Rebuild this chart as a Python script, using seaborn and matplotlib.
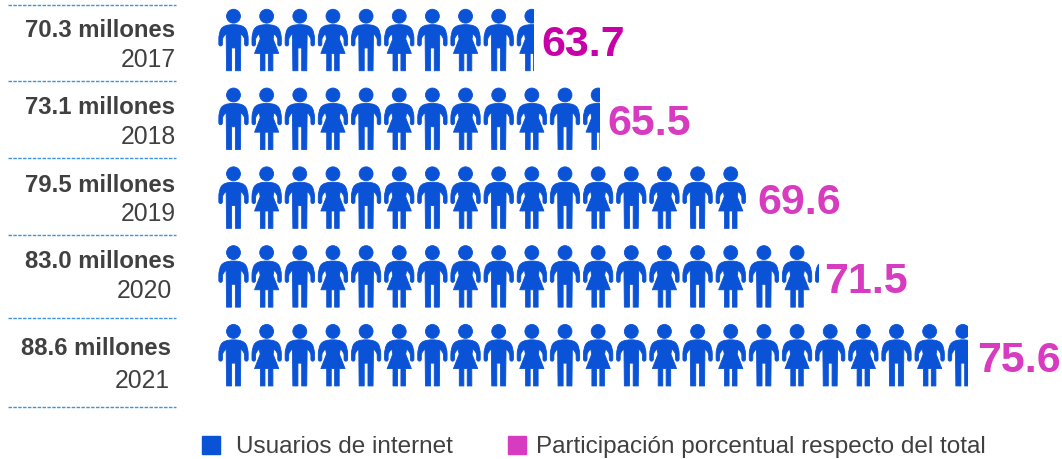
import numpy as np
import pandas as pd
import seaborn as sns
import matplotlib.pyplot as plt
from matplotlib.path import Path
from matplotlib.patches import Rectangle
from matplotlib.lines import Line2D

# datos
anios = ['2017', '2018', '2019', '2020', '2021']
usuarios = ['70.3 millones', '73.1 millones', '79.5 millones', '83.0 millones', '88.6 millones']
participacion = ['63.7', '65.5', '69.6', '71.5', '75.6']
iconos = [9.55, 11.55, 16, 18.15, 22.66]  # cuantas figuras se ven por fila

AZUL = '#0a52d6'
MAGENTA = '#d63bc0'
GRIS = '#404040'
ANCHO, ALTO = 1062, 460
PASO_X, PASO_Y = 33.15, 78.8
X0, Y0 = 233.5, 41


def silueta(lado):
    # lado derecho de la figura, se refleja para cerrar. x desde el centro, y desde arriba
    pts = [p for p, c in lado]
    cods = [c for p, c in lado]
    izq = [(-x, y) for x, y in reversed(pts)]
    cods_izq = [Path.LINETO] + list(reversed(cods[1:]))
    verts = pts + izq + [pts[0]]
    codes = [Path.MOVETO] + cods[1:] + cods_izq + [Path.CLOSEPOLY]
    verts = [(x, 31 - y) for x, y in verts]
    return Path(verts, codes)


L, C = Path.LINETO, Path.CURVE3
hombro = [((0, 15.5), Path.MOVETO), ((10, 15.5), C), ((12.5, 20), C), ((14.8, 24), C), ((14.8, 30), C),
          ((14.8, 35), L), ((14.8, 37), C), ((13, 37), C), ((11.2, 37), C), ((11.2, 35), C),
          ((11.2, 31), L), ((11, 27), C), ((7.4, 25), C)]
cuerpo_h = hombro + [((7, 62), L), ((1.9, 62), L), ((1.9, 39), L), ((0, 39), L)]
cuerpo_m = hombro + [((6.5, 30), L), ((12.2, 44.5), L), ((6.3, 44.5), L), ((6.3, 62), L),
                     ((1.7, 62), L), ((1.7, 44.5), L), ((0, 44.5), L)]


def figura(cuerpo):
    cabeza = Path.circle((0, 31 - 7), 7)
    return Path.make_compound_path(cabeza, silueta(cuerpo))


marcadores = {'hombre': figura(cuerpo_h), 'mujer': figura(cuerpo_m)}

sns.set_style('white')
plt.rcParams['font.family'] = ['Liberation Sans', 'DejaVu Sans']

fig = plt.figure(figsize=(ANCHO / 100, ALTO / 100), dpi=100)
ax = fig.add_axes([0, 0, 1, 1])
ax.set_xlim(-X0 / PASO_X, (ANCHO - X0) / PASO_X)
ax.set_ylim((ALTO - Y0) / PASO_Y, -Y0 / PASO_Y)
ax.axis('off')

aire = [0.24, 0.24, 0.29, 0.16, 0.27]
for fila, n in enumerate(iconos):
    pos = np.arange(int(np.ceil(n)))
    df = pd.DataFrame({'pos': pos, 'fila': fila,
                       'sexo': ['hombre' if i % 2 == 0 else 'mujer' for i in pos]})
    sns.scatterplot(data=df, x='pos', y='fila', style='sexo', markers=marcadores,
                    style_order=['hombre', 'mujer'], s=1960, color=AZUL,
                    edgecolor=AZUL, linewidth=0.6, legend=False, ax=ax)
    # la ultima figura queda cortada
    ax.collections[-1].set_clip_path(Rectangle((-0.5, fila - 0.5), n, 1, transform=ax.transData))
    ax.text(n - 0.5 + aire[fila], fila + 0.055, participacion[fila], color='#c800a8' if fila == 0 else MAGENTA,
            fontsize=31, fontweight='bold', va='center', ha='left')


def fx(x):
    return x / ANCHO


def fy(y):
    return 1 - y / ALTO


# etiquetas de la izquierda
der_usuarios = [175, 175, 175, 175, 171]
der_anios = [176, 176, 176, 172, 170]
y_usuarios = [31, 108, 185, 261, 349]
y_anios = [60, 137, 214, 291, 381]
for i in range(len(anios)):
    fig.text(fx(der_usuarios[i]), fy(y_usuarios[i]), usuarios[i], fontsize=17.2, fontweight='bold',
             color=GRIS, ha='right', va='center')
    fig.text(fx(der_anios[i]), fy(y_anios[i]), anios[i], fontsize=17.8, color=GRIS, ha='right', va='center')

for y in [6, 82, 159, 236, 319, 408]:
    fig.add_artist(Line2D([fx(8), fx(176)], [fy(y), fy(y)], color='#3d94d8', lw=1, ls=(0, (2.5, 1))))

# leyenda
for x, texto, x_txt in [(202, 'Usuarios de internet', 236),
                        (508, 'Participación porcentual respecto del total', 536)]:
    color = AZUL if x == 202 else MAGENTA
    fig.add_artist(Rectangle((fx(x), fy(455)), 18 / ANCHO, 18 / ALTO, color=color, transform=fig.transFigure))
    fig.text(fx(x_txt), fy(447), texto, fontsize=17.45, color=GRIS, ha='left', va='center')

fig.savefig('out.png', dpi=100)
